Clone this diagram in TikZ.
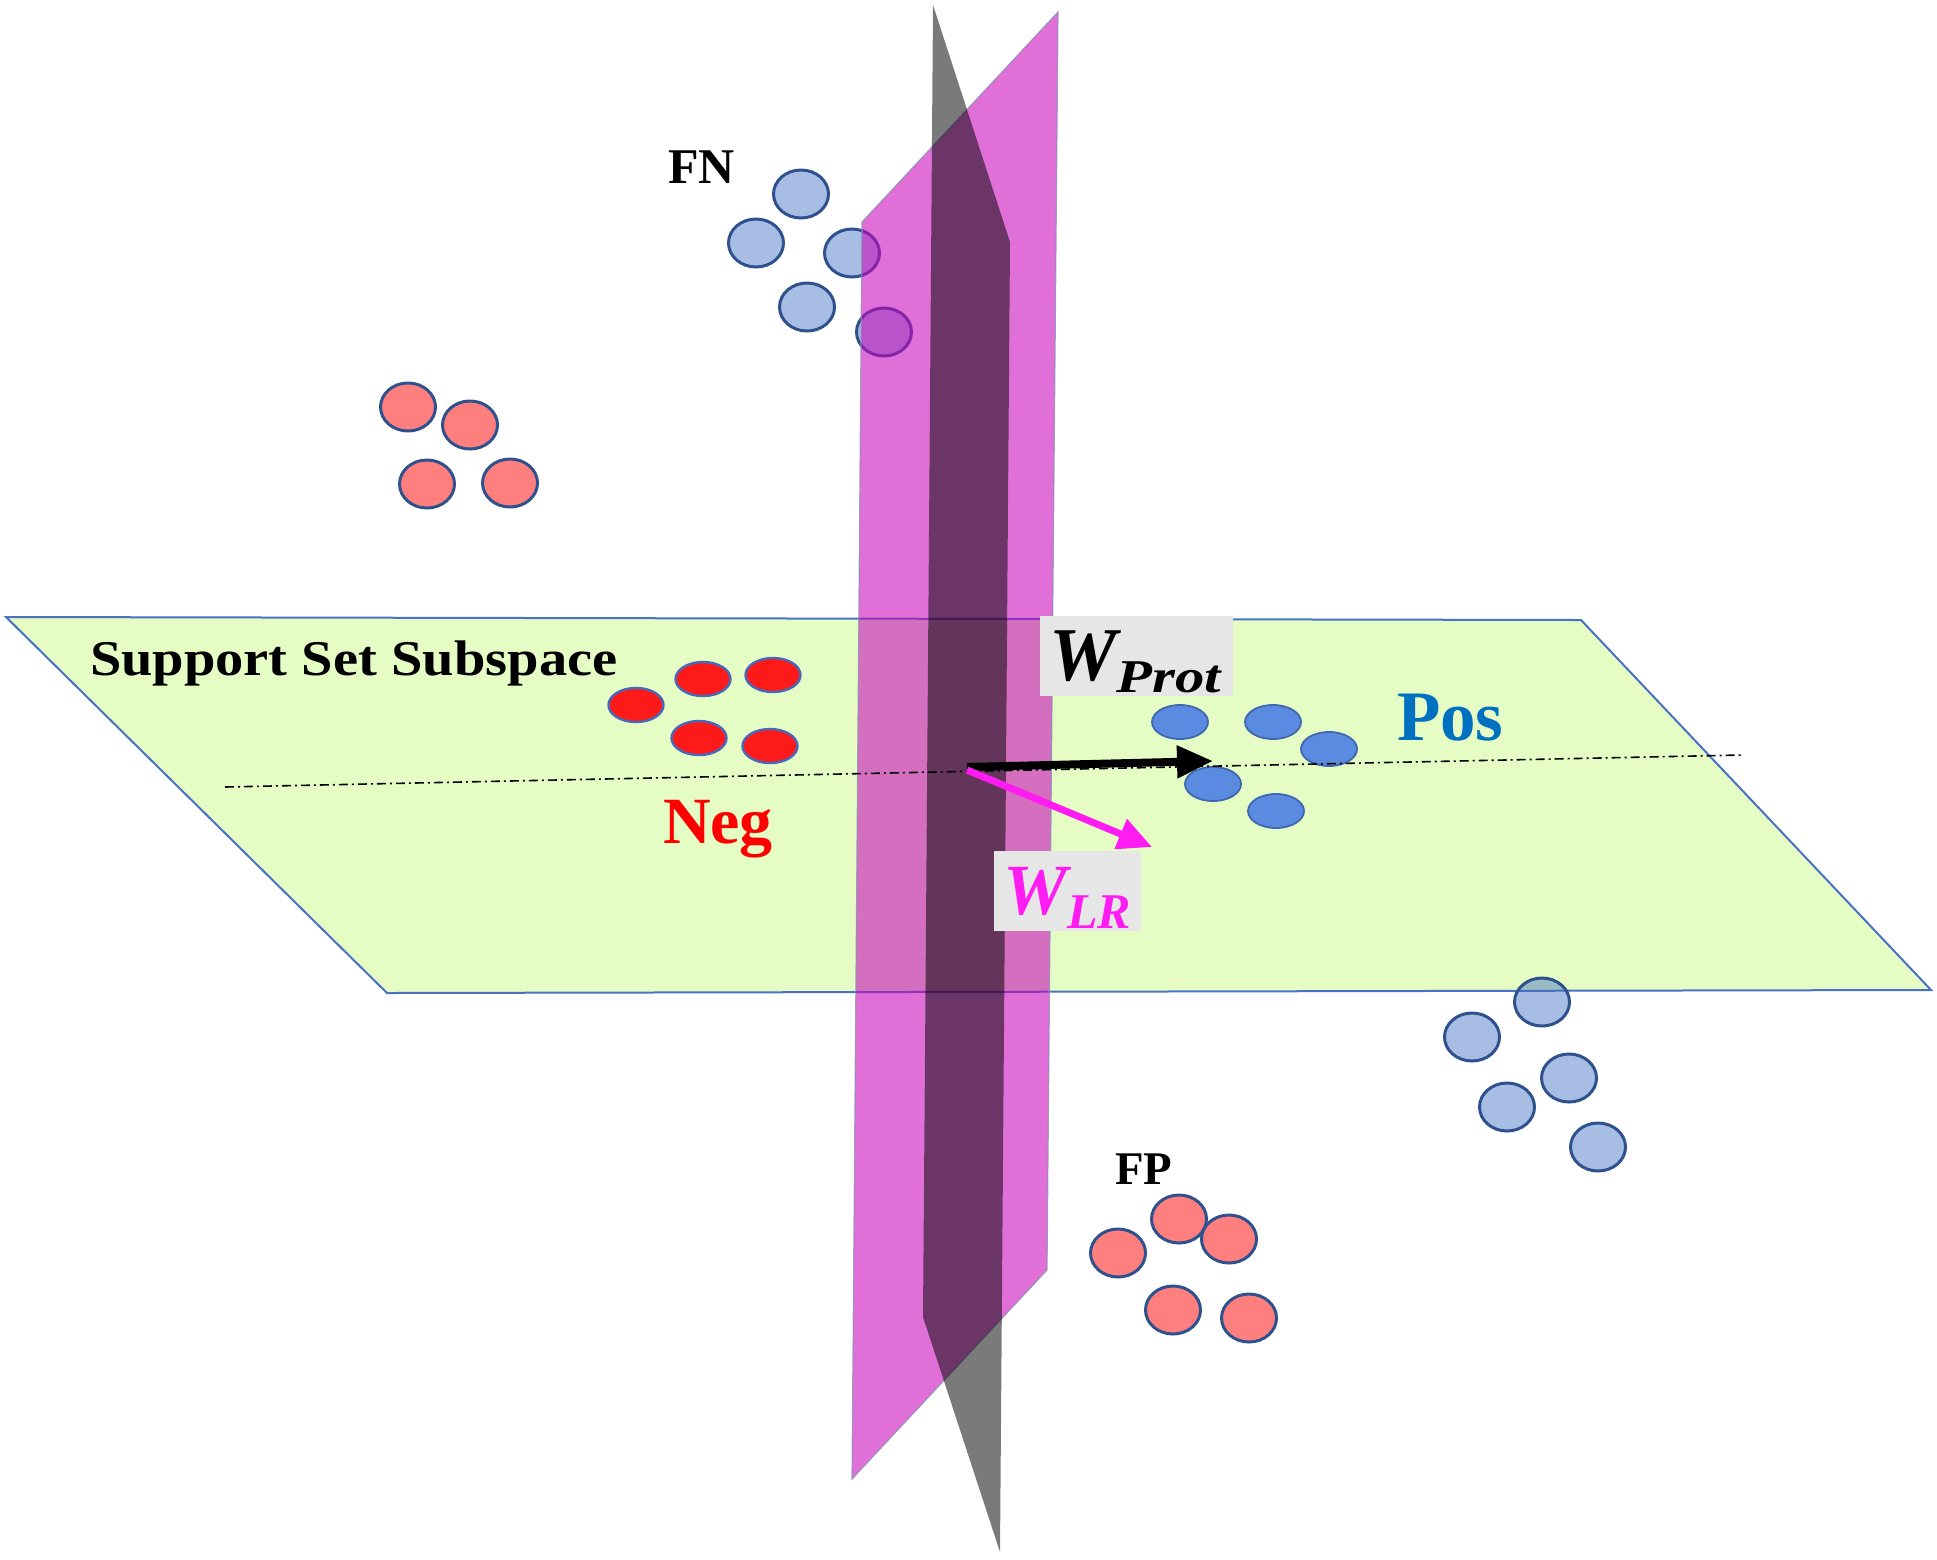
\documentclass[tikz,border=0pt]{standalone}
\usepackage{fontspec}
\setmainfont{Liberation Serif}
\usetikzlibrary{shapes.geometric,arrows.meta}
\definecolor{planegreen}{RGB}{229,252,197}
\definecolor{edgeblue}{RGB}{74,114,196}
\definecolor{ringblue}{RGB}{47,82,143}
\definecolor{ptblue}{RGB}{68,114,196}
\definecolor{negred}{RGB}{255,26,26}
\definecolor{negedge}{RGB}{70,105,185}
\definecolor{posblue}{RGB}{91,139,224}
\definecolor{posedge}{RGB}{63,103,176}
\definecolor{magplane}{RGB}{200,0,185}
\definecolor{magedge}{RGB}{140,140,185}
\definecolor{wlrcol}{RGB}{255,28,242}
\definecolor{postext}{RGB}{0,112,192}
\definecolor{labelbg}{RGB}{230,230,230}
\begin{document}
\begin{tikzpicture}[x=0.5pt,y=-0.5pt,
  dotbase/.style={ellipse, inner sep=0pt, outer sep=0pt},
  bigdot/.style={dotbase, minimum width=27.5pt, minimum height=24pt, line width=1.5pt, draw=ringblue},
  lightblue/.style={bigdot, fill=ptblue, fill opacity=0.47},
  salmon/.style={bigdot, fill=red, fill opacity=0.5},
  negdot/.style={dotbase, minimum width=27.5pt, minimum height=17pt, line width=1.2pt, draw=negedge, fill=negred},
  posdot/.style={dotbase, minimum width=28pt, minimum height=17pt, line width=0.9pt, draw=posedge, fill=posblue},
  labelbox/.style={fill=labelbg, inner sep=0pt, outer sep=0pt, minimum height=40pt},
  txt/.style={anchor=base west, inner sep=0pt, outer sep=0pt, font=\bfseries},
  dashdot/.style={line width=0.8pt, dash pattern=on 4.5pt off 2pt on 1pt off 2pt}
]
\useasboundingbox (0,0) rectangle (1937,1559);

% support set subspace plane
\filldraw[fill=planegreen, draw=edgeblue, line width=1pt]
  (6,617) -- (1581,620) -- (1931,990) -- (387,993) -- cycle;

% Neg points
\node[negdot] (n1) at (636,705) {};
\node[negdot] (n2) at (703,679) {};
\node[negdot] (n3) at (773,675) {};
\node[negdot] (n4) at (699,738) {};
\node[negdot] (n5) at (770,746) {};

% Pos points
\node[posdot] (p1) at (1180,722) {};
\node[posdot] (p2) at (1273,722) {};
\node[posdot] (p3) at (1329,749) {};
\node[posdot] (p4) at (1213,784) {};
\node[posdot] (p5) at (1276,811) {};

% salmon cluster top-left
\node[salmon] (s1) at (408,407) {};
\node[salmon] (s2) at (470,425) {};
\node[salmon] (s3) at (427,484) {};
\node[salmon] (s4) at (510,483) {};

% FN cluster
\node[lightblue] (fn1) at (801,194) {};
\node[lightblue] (fn2) at (756,243) {};
\node[lightblue] (fn3) at (852,253) {};
\node[lightblue] (fn4) at (807,307) {};
\node[lightblue] (fn5) at (884,332) {};

% FP cluster
\node[salmon] (fp1) at (1179,1219) {};
\node[salmon] (fp2) at (1229,1239) {};
\node[salmon] (fp3) at (1118,1253) {};
\node[salmon] (fp4) at (1173,1310) {};
\node[salmon] (fp5) at (1249,1318) {};

% lower-right blue cluster
\node[lightblue] (b1) at (1542,1002) {};
\node[lightblue] (b2) at (1472,1037) {};
\node[lightblue] (b3) at (1569,1078) {};
\node[lightblue] (b4) at (1507,1107) {};
\node[lightblue] (b5) at (1598,1147) {};

% magenta plane
\filldraw[fill=magplane, fill opacity=0.56, draw=magedge, draw opacity=0.8, line width=0.6pt]
  (862,222) -- (1058,12) -- (1047,1270) -- (852,1479) -- cycle;
% gray plane
\fill[black, fill opacity=0.52]
  (933,5) -- (1010,242) -- (1000,1552) -- (923,1317) -- cycle;

% dash-dot line
\coordinate (dl) at (225,787);
\coordinate (dr) at (1742,755);
\draw[dashdot] (dl) -- (dr);

% label boxes
\node[labelbox, minimum width=96.5pt] (wprotbox) at (1136.5,656) {};
\node[labelbox, minimum width=73.5pt] (wlrbox) at (1067.5,891) {};

% arrows
\coordinate (o1) at (967,767);
\coordinate (wp) at (1213,761);
\coordinate (o2) at (967,770);
\coordinate (wl) at (1152,847);
\draw[line width=4pt, -{Triangle[length=18pt,width=15.5pt]}] (o1) -- (wp);
\draw[wlrcol, line width=3.5pt, -{Triangle[length=17pt,width=15.5pt]}] (o2) -- (wl);

% texts
\node[txt] (sss) at (90,675) {\fontsize{25}{30}\selectfont\scalebox{1.13}[1]{Support Set Subspace}};
\node[txt] (fn) at (668,183) {\fontsize{25}{30}\selectfont FN};
\node[txt] (fp) at (1115,1184) {\fontsize{23.4}{28}\selectfont FP};
\node[txt, text=red] (neg) at (663,843) {\fontsize{33}{38}\selectfont Neg};
\node[txt, text=postext] (pos) at (1397,740) {\fontsize{35.5}{40}\selectfont Pos};
\node[txt, font=\bfseries\itshape] (wprot) at (1049,680)
  {\fontsize{38}{44}\selectfont W\raisebox{-6pt}{\fontsize{23.5}{28}\selectfont\scalebox{1.25}[1]{Prot}}};
\node[txt, font=\bfseries\itshape, text=wlrcol] (wlr) at (1003,914)
  {\fontsize{36}{42}\selectfont W\raisebox{-7pt}{\fontsize{25}{30}\selectfont LR}};
\end{tikzpicture}
\end{document}
